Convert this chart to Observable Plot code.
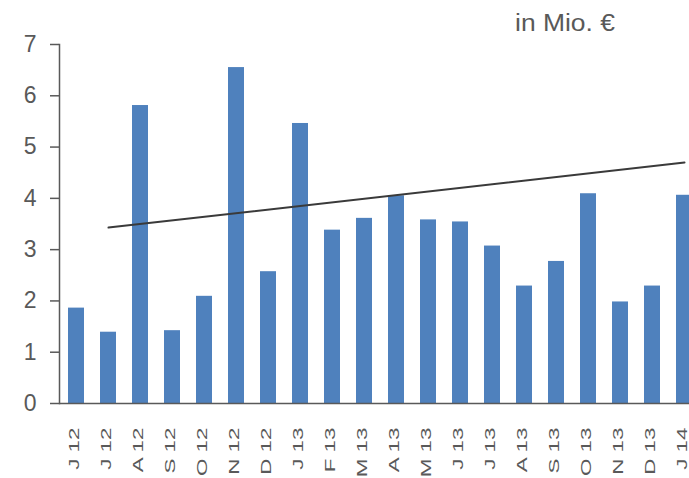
<!DOCTYPE html>
<html>
<head>
<meta charset="utf-8">
<script src="https://cdn.jsdelivr.net/npm/d3@7"></script>
<script src="https://cdn.jsdelivr.net/npm/@observablehq/plot@0.6"></script>
<style>
  html, body { margin: 0; padding: 0; background: #fff; overflow: hidden; width: 689px; height: 478px; }
  #wrap { position: relative; width: 689px; height: 478px; overflow: hidden; }
  #unit { position: absolute; left: 515px; top: 12px; font: 23px/23px "Liberation Sans", Arial, sans-serif; color: #595959; white-space: nowrap; transform: scaleX(1.15); transform-origin: 0 0; }
  svg { max-width: none !important; }
</style>
</head>
<body>
<div id="wrap"><div id="unit">in Mio. €</div></div>
<script>
const months = ["J 12","J 12","A 12","S 12","O 12","N 12","D 12","J 13","F 13","M 13","A 13","M 13","J 13","J 13","A 13","S 13","O 13","N 13","D 13","J 14"];
const values = [1.86,1.39,5.81,1.42,2.09,6.55,2.57,5.46,3.38,3.61,4.05,3.58,3.54,3.07,2.29,2.77,4.09,1.98,2.29,4.06];
const trendIndex = [1, 19];
const trendValues = [3.43, 4.70];
const yTicks = [0,1,2,3,4,5,6,7];

const data = months.map((m, i) => ({i, m, v: values[i]}));
const trend = trendIndex.map((i, k) => ({i, v: trendValues[k]}));

const chart = Plot.plot({
  width: 704, height: 478,
  marginLeft: 59, marginRight: 0, marginTop: 44, marginBottom: 75,
  style: {fontFamily: "'Liberation Sans', Arial, sans-serif", color: "#595959", background: "transparent"},
  x: {domain: d3.range(months.length), range: [57, 704], paddingInner: 0.49, paddingOuter: 0.245, axis: null},
  y: {domain: [0, 7], axis: null},
  marks: [
    Plot.barY(data, {x: "i", y: "v", fill: "#4F81BD"}),
    Plot.line(trend, {x: "i", y: "v", stroke: "#3a3a3a", strokeWidth: 2}),
    Plot.ruleY([0], {stroke: "#595959", strokeWidth: 1.5}),
    Plot.frame({anchor: "left", stroke: "#595959", strokeWidth: 1.5}),
    Plot.axisY({ticks: yTicks, tickSize: 9, tickPadding: 14, fontSize: 23, stroke: "#595959", strokeWidth: 1.5, label: null, tickFormat: d => String(d)}),
    Plot.axisX({tickRotate: -90, tickSize: 0, tickPadding: 24, fontSize: 14, label: null, dx: -2, tickFormat: i => months[i]})
  ]
});
chart.style.maxWidth = "none";
chart.style.position = "absolute";
chart.style.left = "0";
chart.style.top = "0";
chart.querySelectorAll('g[aria-label="x-axis tick label"] text').forEach(t => {
  const tr = t.getAttribute("transform") || "";
  t.setAttribute("transform", tr + " scale(1.6,1)");
});
document.getElementById("wrap").prepend(chart);
</script>
</body>
</html>
